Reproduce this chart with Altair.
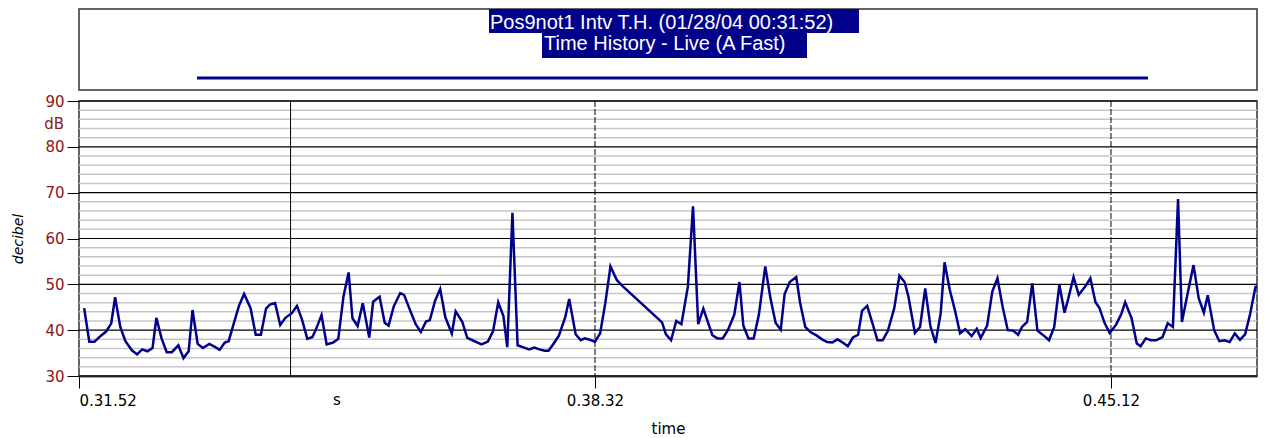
import altair as alt
import pandas as pd

# ---- data ----
time_s = [4, 8, 12, 17, 21, 25, 28, 32, 36, 41, 45, 49, 53, 57, 60, 64, 68, 72, 77, 81,
          85, 88, 92, 96, 101, 105, 109, 113, 116, 120, 124, 128, 133, 137, 141, 145, 148, 152, 156, 160,
          165, 169, 173, 177, 181, 184, 188, 192, 197, 201, 205, 209, 212, 216, 220, 225, 228, 233, 237, 240,
          244, 249, 252, 257, 261, 265, 269, 272, 276, 280, 284, 289, 292, 297, 301, 305, 309, 312, 317, 321,
          325, 329, 332, 336, 340, 344, 349, 353, 357, 361, 364, 368, 372, 377, 380, 385, 389, 392, 396, 400,
          404, 408, 412, 417, 421, 452, 455, 459, 463, 467, 472, 476, 480, 484, 487, 491, 495, 499, 503, 508,
          512, 515, 519, 523, 527, 532, 536, 540, 544, 547, 551, 556, 559, 563, 567, 572, 576, 580, 584, 588,
          592, 596, 600, 604, 607, 611, 615, 619, 623, 627, 632, 636, 640, 643, 648, 652, 656, 660, 664, 668,
          671, 675, 679, 683, 687, 692, 696, 699, 704, 708, 712, 716, 720, 724, 728, 731, 735, 739, 743, 748,
          752, 756, 760, 764, 767, 771, 775, 780, 784, 788, 791, 795, 799, 804, 808, 811, 816, 820, 823, 827,
          831, 835, 840, 844, 848, 852, 855, 860, 864, 868, 872, 875, 880, 884, 888, 892, 896, 900, 904, 908,
          912, 915, 919]
level_db = [44.8, 37.5, 37.5, 38.8, 39.7, 41.5, 47.2, 40.7, 37.6, 35.6, 34.7, 35.8, 35.4, 36.1, 42.7, 38.2, 35.2, 35.2, 36.7, 33.9,
            35.4, 44.4, 37.0, 36.1, 37.0, 36.4, 35.7, 37.3, 37.6, 41.5, 45.3, 47.9, 44.8, 39.0, 39.0, 44.7, 45.6, 45.9, 41.1, 42.7,
            43.7, 45.3, 42.2, 38.1, 38.5, 40.4, 43.3, 36.9, 37.3, 38.1, 47.3, 52.6, 42.6, 40.9, 45.9, 38.4, 46.2, 47.3, 41.6, 41.0,
            45.2, 48.1, 47.7, 44.1, 41.3, 39.6, 41.9, 42.2, 46.4, 49.0, 42.8, 39.3, 44.1, 41.9, 38.3, 37.8, 37.3, 36.9, 37.5, 39.8,
            46.1, 43.1, 36.3, 65.6, 36.7, 36.3, 35.8, 36.2, 35.8, 35.5, 35.5, 37.1, 38.8, 42.9, 46.8, 39.1, 37.8, 38.2, 37.9, 37.5,
            39.3, 45.9, 53.9, 50.9, 49.7, 41.7, 39.1, 37.8, 42.0, 41.3, 49.5, 67.0, 41.3, 44.7, 42.2, 38.9, 38.2, 38.2, 40.0, 43.4,
            50.5, 41.0, 38.2, 38.2, 43.3, 53.9, 47.0, 41.6, 40.1, 47.9, 50.5, 51.6, 46.0, 40.7, 39.6, 38.8, 38.0, 37.4, 37.3, 38.0,
            37.3, 36.5, 38.4, 39.0, 44.2, 45.3, 41.6, 37.8, 37.8, 39.8, 44.8, 51.9, 50.5, 47.3, 39.4, 40.7, 49.1, 40.9, 37.2, 43.7,
            54.8, 48.8, 44.4, 39.3, 40.2, 38.7, 40.3, 38.3, 41.0, 48.4, 51.3, 45.1, 40.0, 39.9, 39.0, 40.7, 41.8, 50.2, 39.9, 38.8,
            37.8, 40.7, 49.9, 43.8, 47.0, 51.6, 47.7, 49.5, 51.3, 46.1, 44.9, 41.6, 39.4, 41.2, 43.5, 46.1, 42.6, 37.1, 36.5, 38.2,
            37.8, 37.8, 38.5, 41.5, 40.7, 68.6, 41.8, 48.8, 54.2, 47.0, 43.8, 47.6, 40.0, 37.6, 37.8, 37.4, 39.3, 37.9, 39.1, 43.7,
            49.4, 49.4, 39.6]

x_tick_values = [0, 400, 800]
x_tick_labels = ["0.31.52", "0.38.32", "0.45.12"]
y_major = [30, 40, 50, 60, 70, 80, 90]
y_minor = [v for v in range(30, 91, 2) if v % 10 != 0]
dashed_times = [400, 800]
cursor_times = [164]
unit_y = ["dB"]
unit_x = ["s"]
title_line1 = "Pos9not1 Intv T.H. (01/28/04 00:31:52)"
title_line2 = "Time History - Live (A Fast)"

NAVY = "#00008a"
RED = "#8c1515"
FONT = "DejaVu Sans"
W, H = 1178, 275
X_END = 913.2

xscale = alt.Scale(domain=[0, X_END], nice=False, zero=False)
yscale = alt.Scale(domain=[30, 90], nice=False, zero=False)

label_map = "{" + ",".join(f"'{v}':'{l}'" for v, l in zip(x_tick_values, x_tick_labels)) + "}"

xaxis = alt.Axis(values=x_tick_values, labelExpr=f"{label_map}[datum.value + '']", grid=False,
                 tickSize=12, tickColor="black", tickWidth=1, domainColor="#444", domainWidth=2,
                 labelFont=FONT, labelFontSize=15, labelColor="black", labelPadding=5,
                 titleFont=FONT, titleFontSize=15, titleFontWeight="normal", titleColor="black",
                 titlePadding=13)
yaxis = alt.Axis(values=y_major, grid=False, tickSize=12, tickColor="black", tickWidth=1,
                 domain=False, labelFont=FONT, labelFontSize=15, labelColor=RED, labelPadding=3,
                 titleFont=FONT, titleFontSize=14, titleFontStyle="italic", titleFontWeight="normal",
                 titleColor="black", titlePadding=19)


def X(field):
    return alt.X(field, scale=xscale, axis=xaxis, title="time")


def Y(field):
    return alt.Y(field, scale=yscale, axis=yaxis, title="decibel")


line = alt.Chart(pd.DataFrame({"t": time_s, "db": level_db})).mark_line(
    color=NAVY, strokeWidth=2.5, clip=True).encode(x=X("t:Q"), y=Y("db:Q"))
minor = alt.Chart(pd.DataFrame({"v": y_minor})).mark_rule(color="#c6c6c6", strokeWidth=1.5).encode(
    y=Y("v:Q"))
major = alt.Chart(pd.DataFrame({"v": y_major})).mark_rule(color="black", strokeWidth=1.2).encode(
    y=Y("v:Q"))
dashed = alt.Chart(pd.DataFrame({"t": dashed_times})).mark_rule(
    color="black", strokeWidth=1, strokeDash=[6, 2]).encode(x=X("t:Q"))
cursor = alt.Chart(pd.DataFrame({"t": cursor_times})).mark_rule(color="black", strokeWidth=1).encode(
    x=X("t:Q"))
db_unit = alt.Chart(pd.DataFrame({"u": unit_y, "v": [85]})).mark_text(
    align="right", baseline="middle", font=FONT, fontSize=15, color=RED).encode(
    y=Y("v:Q"), x=alt.value(-15), text="u:N")
s_unit = alt.Chart(pd.DataFrame({"u": unit_x, "t": [200]})).mark_text(
    align="center", baseline="middle", font=FONT, fontSize=15, color="black").encode(
    x=X("t:Q"), y=alt.value(H + 24), text="u:N")

main = alt.layer(minor, major, dashed, cursor, line, db_unit, s_unit).properties(width=W, height=H)

tdf = pd.DataFrame({"a": [0]})
hl1 = alt.Chart(tdf).mark_rect(color=NAVY).encode(x=alt.value(410), x2=alt.value(780), y=alt.value(0), y2=alt.value(24))
hl2 = alt.Chart(tdf).mark_rect(color=NAVY).encode(x=alt.value(463), x2=alt.value(728), y=alt.value(24), y2=alt.value(49))
t1 = alt.Chart(pd.DataFrame({"s": [title_line1]})).mark_text(
    align="left", baseline="alphabetic", font="Liberation Sans", fontSize=20, color="white").encode(
    x=alt.value(411), y=alt.value(20), text="s:N")
t2 = alt.Chart(pd.DataFrame({"s": [title_line2]})).mark_text(
    align="left", baseline="alphabetic", font="Liberation Sans", fontSize=20, color="white").encode(
    x=alt.value(465), y=alt.value(41), text="s:N")
swatch = alt.Chart(tdf).mark_rule(color=NAVY, strokeWidth=3).encode(
    x=alt.value(118), x2=alt.value(1069), y=alt.value(69))
top = alt.layer(hl1, hl2, t1, t2, swatch).properties(width=W, height=81)

chart = alt.vconcat(top, main, spacing=11, bounds="flush").properties(
    padding={"left": 3, "top": 0, "right": 0, "bottom": 0}
).configure_view(stroke="#333", strokeWidth=1.5)

chart.save("out.html", embed_options={"renderer": "svg", "actions": False})
